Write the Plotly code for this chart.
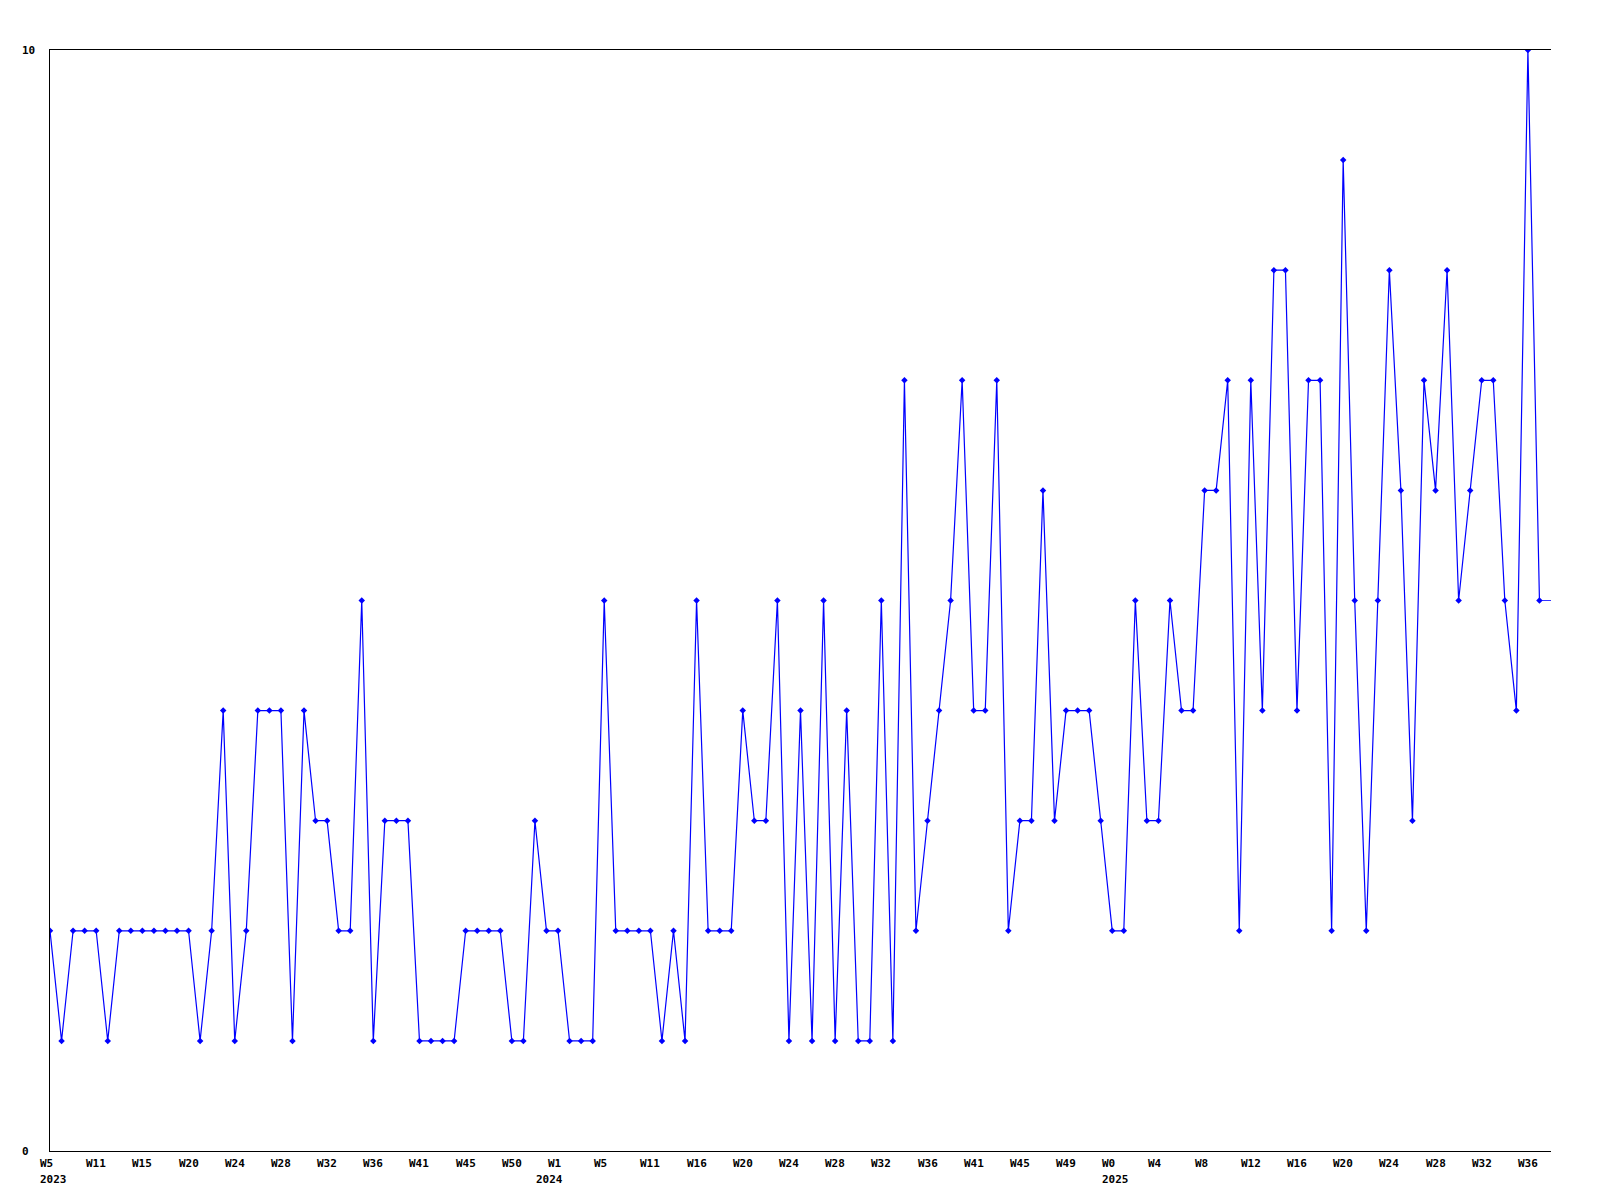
import plotly.graph_objects as go

values = [2, 1, 2, 2, 2, 1, 2, 2, 2, 2, 2, 2, 2, 1, 2, 4, 1, 2, 4, 4, 4, 1, 4,
          3, 3, 2, 2, 5, 1, 3, 3, 3, 1, 1, 1, 1, 2, 2, 2, 2, 1, 1, 3, 2, 2, 1,
          1, 1, 5, 2, 2, 2, 2, 1, 2, 1, 5, 2, 2, 2, 4, 3, 3, 5, 1, 4, 1, 5,
          1, 4, 1, 1, 5, 1, 7, 2, 3, 4, 5, 7, 4, 4, 7, 2, 3, 3, 6, 3, 4, 4, 4,
          3, 2, 2, 5, 3, 3, 5, 4, 4, 6, 6, 7, 2, 7, 4, 8, 8, 4, 7, 7, 2, 9,
          5, 2, 5, 8, 6, 3, 7, 6, 8, 5, 6, 7, 7, 5, 4, 10, 5]
trailing_value = 5

week_labels = ["W5", "W11", "W15", "W20", "W24", "W28", "W32", "W36", "W41", "W45", "W50",
               "W1", "W5", "W11", "W16", "W20", "W24", "W28", "W32", "W36", "W41", "W45", "W49",
               "W0", "W4", "W8", "W12", "W16", "W20", "W24", "W28", "W32", "W36"]
tick_step = 4
# year label positions (in week-index units along x)
year_positions = [0, 43, 92]
year_texts = ["2023", "2024", "2025"]

y_labels = [0, 10]

x = list(range(len(values)))
n = len(values)

fig = go.Figure()
fig.add_trace(go.Scatter(
    x=[n - 1, n], y=[values[-1], trailing_value], mode="lines",
    line=dict(color="#0000ff", width=0.8), hoverinfo="skip", showlegend=False))
fig.add_trace(go.Scatter(
    x=x, y=values, mode="lines+markers",
    line=dict(color="#0000ff", width=1.2),
    marker=dict(symbol="diamond", size=5, color="#0000ff"),
    showlegend=False))

font = dict(family="DejaVu Sans Mono", size=11, color="black", weight="bold")
annotations = []
for i, lab in enumerate(week_labels):
    annotations.append(dict(
        x=i * tick_step, y=0, xref="x", yref="paper", text=lab,
        showarrow=False, xanchor="left", yanchor="middle", align="left",
        xshift=-12, yshift=-12, font=font))
for pos, txt in zip(year_positions, year_texts):
    annotations.append(dict(
        x=pos, y=0, xref="x", yref="paper", text=txt,
        showarrow=False, xanchor="left", yanchor="middle", align="left",
        xshift=-12, yshift=-28, font=font))
for v in y_labels:
    annotations.append(dict(
        x=0, y=v, xref="paper", yref="y", text=str(v),
        showarrow=False, xanchor="left", yanchor="middle", align="left",
        xshift=-30, font=font))

fig.update_layout(
    width=1600, height=1200,
    margin=dict(l=42, r=57, t=42, b=57),
    paper_bgcolor="white", plot_bgcolor="white",
    font=font,
    annotations=annotations,
    xaxis=dict(range=[0, n], showgrid=False, zeroline=False, showticklabels=False,
               ticks="", showline=True, linecolor="black", linewidth=1, mirror=True),
    yaxis=dict(range=[0, 10], showgrid=False, zeroline=False, showticklabels=False,
               ticks="", showline=True, linecolor="black", linewidth=1, mirror=False),
)

fig.write_html("out.html")
